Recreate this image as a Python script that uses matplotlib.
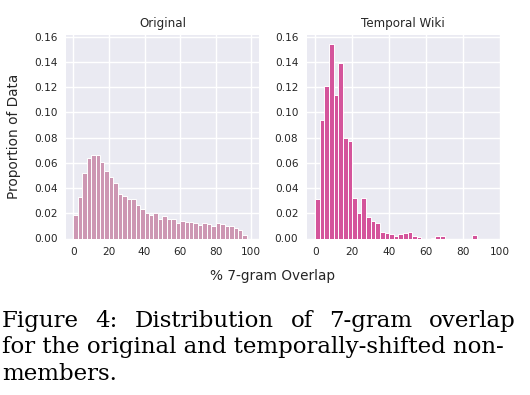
import numpy as np
import matplotlib
matplotlib.use("Agg")
from matplotlib import pyplot as plt

# histogram bins: 2.5-wide bins over 0-100 (% 7-gram overlap)
bin_width = 2.5
bin_starts = np.arange(0, 100, bin_width)

original = [
    0.019, 0.033, 0.052, 0.064, 0.066, 0.066, 0.061, 0.0535, 0.0485, 0.044,
    0.035, 0.034, 0.0315, 0.0315, 0.0265, 0.0235, 0.0205, 0.0185, 0.0205, 0.0155,
    0.0175, 0.0156, 0.0153, 0.0125, 0.0138, 0.013, 0.0127, 0.0125, 0.0104, 0.0125,
    0.0112, 0.0101, 0.0125, 0.0117, 0.0101, 0.0101, 0.0081, 0.0065, 0.0029, 0.0,
]
temporal_wiki = [
    0.031, 0.094, 0.121, 0.154, 0.114, 0.139, 0.080, 0.077, 0.032, 0.020,
    0.032, 0.017, 0.014, 0.0122, 0.0053, 0.0042, 0.0034, 0.0023, 0.0034, 0.0042,
    0.0055, 0.0023, 0.0013, 0.0, 0.0, 0.0003, 0.0016, 0.0023, 0.0, 0.0,
    0.0, 0.0, 0.0, 0.0, 0.0026, 0.0, 0.0, 0.0, 0.0, 0.0,
]

titles = ["Original", "Temporal Wiki"]
colors = ["#cd97b3", "#d4549b"]
yticks = [0.0, 0.02, 0.04, 0.06, 0.08, 0.10, 0.12, 0.14, 0.16]
xticks = [0, 20, 40, 60, 80, 100]

caption_line1 = ["Figure", "4:", "Distribution", "of", "7-gram", "overlap"]
caption_line2 = "for the original and temporally-shifted non-"
caption_line3 = "members."

W, H = 530, 395
fig = plt.figure(figsize=(5.3, 3.95), dpi=100)

ax_left = fig.add_axes([66 / W, 1 - 238.5 / H, 193 / W, 203.5 / H])
ax_right = fig.add_axes([306.7 / W, 1 - 238.5 / H, 193.3 / W, 203.5 / H])

xlims = [(-4.1, 104.3), (-4.6, 100)]
for ax, vals, title, col, xl in zip([ax_left, ax_right], [original, temporal_wiki],
                                    titles, colors, xlims):
    ax.set_facecolor("#eaeaf2")
    ax.grid(True, color="white", linewidth=1.0)
    ax.set_axisbelow(True)
    for s in ax.spines.values():
        s.set_visible(False)
    ax.bar(bin_starts, vals, width=bin_width, align="edge", color=col,
           edgecolor="white", linewidth=0.7)
    ax.set_xlim(*xl)
    ax.set_ylim(0, 0.1615)
    ax.set_xticks(xticks)
    ax.set_yticks(yticks)
    ax.set_yticklabels(["%.2f" % t for t in yticks])
    ax.tick_params(length=0, pad=6, labelsize=7.6, labelcolor="#262626")
    ax.set_title(title, fontsize=8.6, color="#262626", pad=6)

fig.text(14.5 / W, 1 - 136.75 / H, "Proportion of Data", rotation=90,
         ha="center", va="center", fontsize=9.8, color="#262626")
fig.text(272 / W, 1 - 276 / H, "% 7-gram Overlap", ha="center", va="center",
         fontsize=9.8, color="#262626")

# caption below the plot, sized so the second line fills the width
renderer = fig.canvas.get_renderer()
cap = dict(family="DejaVu Serif", color="black", va="baseline", ha="left")
probe = fig.text(0, 0, caption_line2, fontsize=15, **cap)
size = 15 * 506 / probe.get_window_extent(renderer).width
probe.remove()

fig.text(2 / W, 1 - 353.5 / H, caption_line2, fontsize=size, **cap)
fig.text(2 / W, 1 - 380 / H, caption_line3, fontsize=size, **cap)

# first line is justified between x=2 and x=516
words = [fig.text(0, 1 - 327 / H, w, fontsize=size, **cap) for w in caption_line1]
widths = [t.get_window_extent(renderer).width for t in words]
gap = (514 - sum(widths)) / (len(words) - 1)
x = 2
for t, w in zip(words, widths):
    t.set_x(x / W)
    x += w + gap

fig.savefig("out.png", dpi=100)
